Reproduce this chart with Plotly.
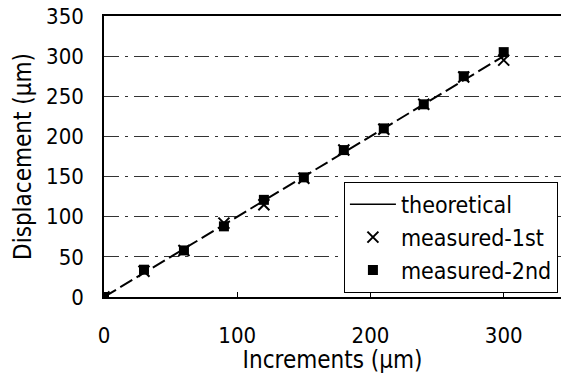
import plotly.graph_objects as go

increments = [0, 30, 60, 90, 120, 150, 180, 210, 240, 270, 300]
theoretical = [0, 30, 60, 90, 120, 150, 180, 210, 240, 270, 300]
measured_1st = [0, 32, 58, 92, 115, 148, 183, 209, 240, 274, 295]
measured_2nd = [0, 34, 58, 88, 121, 149, 183, 210, 240, 275, 305]

FAM = "DejaVu Sans Condensed, DejaVu Sans, sans-serif"
font = dict(family=FAM, size=22, color="black")
tfont = dict(family=FAM, size=24, color="black")

fig = go.Figure()
fig.add_trace(go.Scatter(x=increments, y=theoretical, mode="lines", showlegend=False,
                         line=dict(color="black", width=2, dash="14px,5px")))
# legend sample for the theoretical line (drawn solid in the legend)
fig.add_trace(go.Scatter(x=[None], y=[None], mode="lines", name="theoretical",
                         line=dict(color="black", width=1.5)))
fig.add_trace(go.Scatter(x=increments, y=measured_1st, mode="markers", name="measured-1st",
                         marker=dict(symbol="x-thin", size=11, color="black",
                                     line=dict(color="black", width=2))))
fig.add_trace(go.Scatter(x=increments, y=measured_2nd, mode="markers", name="measured-2nd",
                         marker=dict(symbol="square", size=10, color="black")))

fig.update_layout(
    width=561, height=374,
    margin=dict(l=104, r=0, t=16, b=77),
    paper_bgcolor="white", plot_bgcolor="white",
    font=font,
    showlegend=True,
    legend=dict(x=0.525, y=0.41, xanchor="left", yanchor="top",
                bgcolor="white", bordercolor="black", borderwidth=1,
                font=dict(family=FAM, size=23, color="black"),
                tracegroupgap=0, itemwidth=46),
    xaxis=dict(range=[0, 343], tickvals=[0, 100, 200, 300], showgrid=False,
               showline=True, linecolor="black", linewidth=1.5, mirror=True,
               ticks="inside", ticklen=5, tickcolor="black", zeroline=False,
               ticklabelstandoff=18, tickfont=font,
               title=dict(text="Increments (μm)", standoff=0, font=tfont)),
    yaxis=dict(range=[0, 350], tickvals=[0, 50, 100, 150, 200, 250, 300, 350],
               showgrid=True, gridcolor="#333", gridwidth=1, griddash="longdashdot",
               showline=True, linecolor="black", linewidth=1.5, ticks="", zeroline=False,
               ticklabelstandoff=14, tickfont=font,
               title=dict(text="Displacement (μm)", standoff=8, font=tfont)),
)
fig.write_html("out.html")
